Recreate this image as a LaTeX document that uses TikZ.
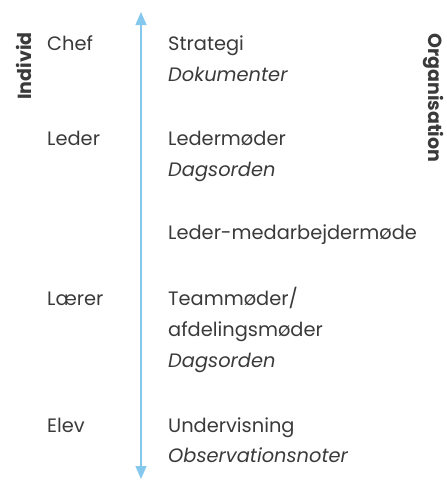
\documentclass[tikz,border=0pt]{standalone}
\usepackage{fontspec}
\setmainfont{Poppins}
\usetikzlibrary{arrows.meta}
\definecolor{txt}{HTML}{3A3A3A}
\definecolor{axis}{HTML}{85C8EE}
\begin{document}
\begin{tikzpicture}[x=1pt,y=-1pt,
  lbl/.style={anchor=base west,inner sep=0pt,text=txt,font=\fontsize{19.4}{22}\selectfont},
  doc/.style={lbl,font=\fontsize{19.4}{22}\selectfont\itshape},
  side/.style={inner sep=0pt,text=txt,font=\fontsize{19}{22}\selectfont\bfseries}]
\useasboundingbox (0,0) rectangle (447,480);
\coordinate (top) at (141,12);
\coordinate (bot) at (141,479);
\draw[axis,line width=1.3pt,{Triangle[width=11pt,length=13pt]}-{Triangle[width=11pt,length=13pt]}] (top) -- (bot);
\node[side,rotate=90,anchor=base] (individ) at (31,66) {Individ};
\node[side,rotate=-90,anchor=base] (org) at (428,98) {Organisation};
\node[lbl] (chef) at (47,50) {Chef};
\node[lbl] (leder) at (47,145) {Leder};
\node[lbl] (laerer) at (47,305) {Lærer};
\node[lbl] (elev) at (47,432) {Elev};
\node[lbl] (strat) at (168,50) {Strategi};
\node[doc] (dok) at (168,81) {Dokumenter};
\node[lbl] (lm) at (168,145) {Ledermøder};
\node[doc] (dag1) at (168,176) {Dagsorden};
\node[lbl] (lmm) at (168,239) {Leder-medarbejdermøde};
\node[lbl] (team) at (168,305) {Teammøder/};
\node[lbl] (afd) at (168,336) {afdelingsmøder};
\node[doc] (dag2) at (168,367) {Dagsorden};
\node[lbl] (underv) at (168,432) {Undervisning};
\node[doc] (obs) at (168,462) {Observationsnoter};
\end{tikzpicture}
\end{document}
